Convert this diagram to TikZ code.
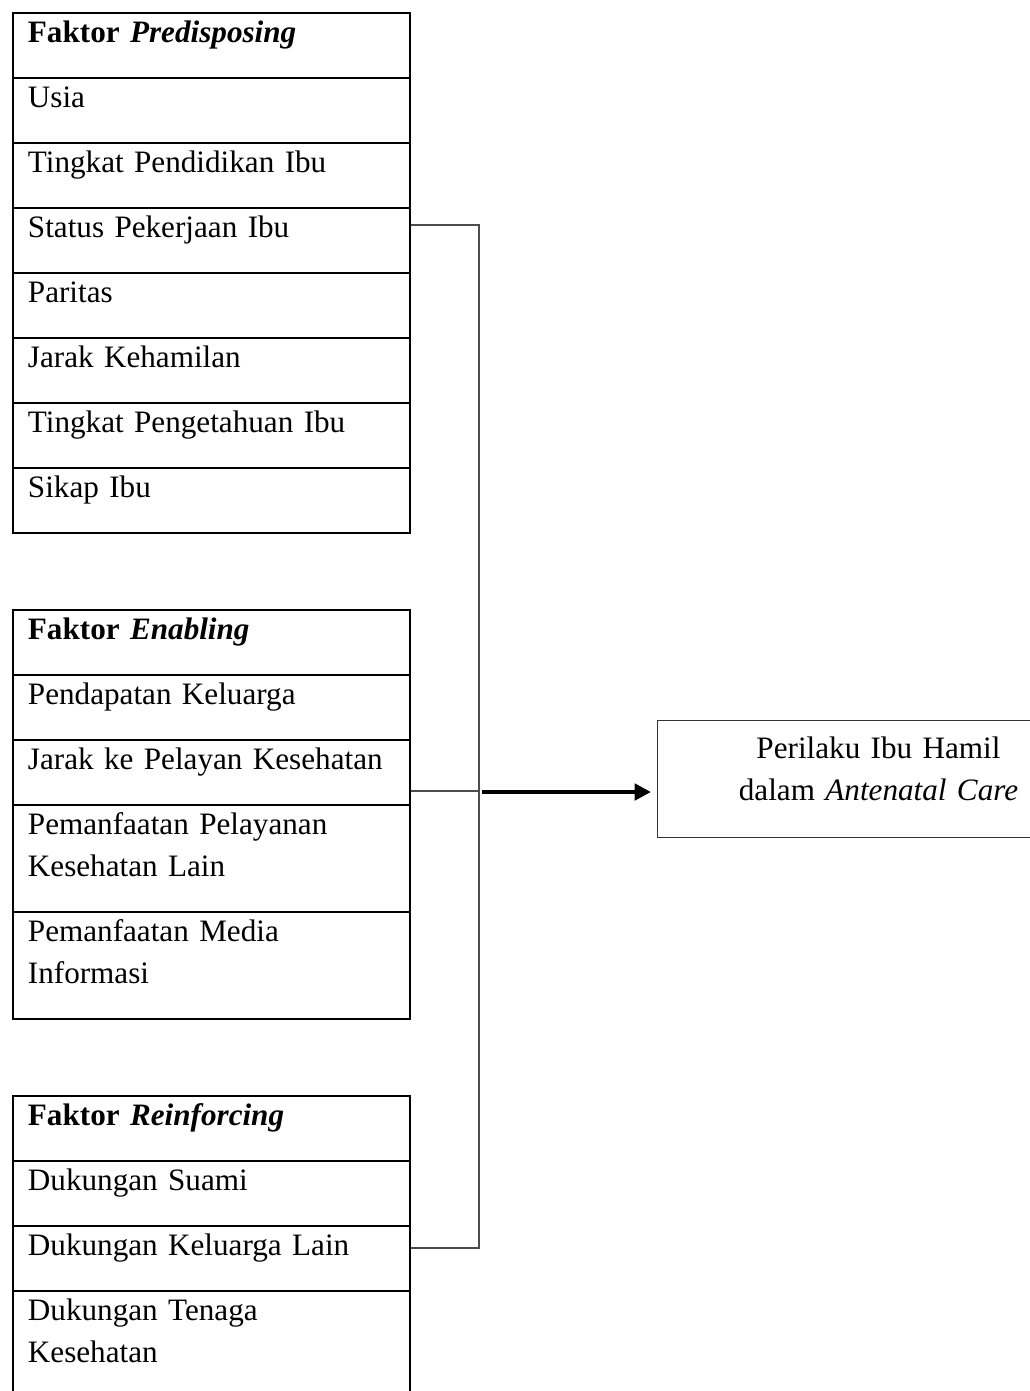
\documentclass[tikz,border=0pt]{standalone}
\usepackage{fontspec}
\setmainfont{Liberation Serif}
\usepackage{xcolor}
\usepackage{tikz}
\usetikzlibrary{arrows.meta}

\colorlet{linkgray}{black!70}
\tikzset{
  cell/.style={draw, line width=0.8pt, anchor=north west, inner xsep=6.45pt, inner ysep=0pt,
    text width=157.8pt, align=left, font=\fontsize{13.4pt}{18pt}\selectfont,
    text height=12.9pt, text depth=15.05pt},
  tallcell/.style={cell, text depth=33.1pt},
  link/.style={draw=linkgray, line width=0.6pt},
}

\begin{document}
\begin{tikzpicture}[x=0.43pt,y=-0.43pt]
\useasboundingbox (0,0) rectangle (1030,1391);
% faktor predisposing
\node[cell] (pre) at (12,12) {\textbf{Faktor \textit{Predisposing}}};
\node[cell] (usia) at (12,77) {Usia};
\node[cell] (didik) at (12,142) {Tingkat Pendidikan Ibu};
\node[cell] (kerja) at (12,207) {Status Pekerjaan Ibu};
\node[cell] (paritas) at (12,272) {Paritas};
\node[cell] (jarak) at (12,337) {Jarak Kehamilan};
\node[cell] (tahu) at (12,402) {Tingkat Pengetahuan Ibu};
\node[cell] (sikap) at (12,467) {Sikap Ibu};
% faktor enabling
\node[cell] (ena) at (12,609) {\textbf{Faktor \textit{Enabling}}};
\node[cell] (dapat) at (12,674) {Pendapatan Keluarga};
\node[cell] (yankes) at (12,739) {Jarak ke Pelayan Kesehatan};
\node[tallcell] (manyan) at (12,804) {Pemanfaatan Pelayanan\\Kesehatan Lain};
\node[tallcell] (media) at (12,911) {Pemanfaatan Media\\Informasi};
% faktor reinforcing
\node[cell] (rein) at (12,1095) {\textbf{Faktor \textit{Reinforcing}}};
\node[cell] (suami) at (12,1160) {Dukungan Suami};
\node[cell] (kelu) at (12,1225) {Dukungan Keluarga Lain};
\node[tallcell] (tenaga) at (12,1290) {Dukungan Tenaga\\Kesehatan};
% perilaku
\node[draw=black!80, line width=0.5pt, anchor=north west, inner sep=0pt, text width=190pt, align=center,
  font=\fontsize{13.4pt}{18pt}\selectfont, text height=16.3pt, text depth=34pt]
  (perilaku) at (657,720) {Perilaku Ibu Hamil\\dalam \textit{Antenatal Care}};
\coordinate (jt) at (479,225);
\coordinate (jm) at (479,791);
\coordinate (jb) at (479,1248);
\coordinate (ja) at (482,792);
\draw[link] (kerja.north east |- jt) -- (jt) -- (jb) -- (kelu.north east |- jb);
\draw[link] (yankes.north east |- jm) -- (jm);
\draw[line width=1.7pt, -{Triangle[length=7pt,width=7pt]}, shorten >=2.6pt] (ja) -- (perilaku.west |- ja);
\end{tikzpicture}
\end{document}
